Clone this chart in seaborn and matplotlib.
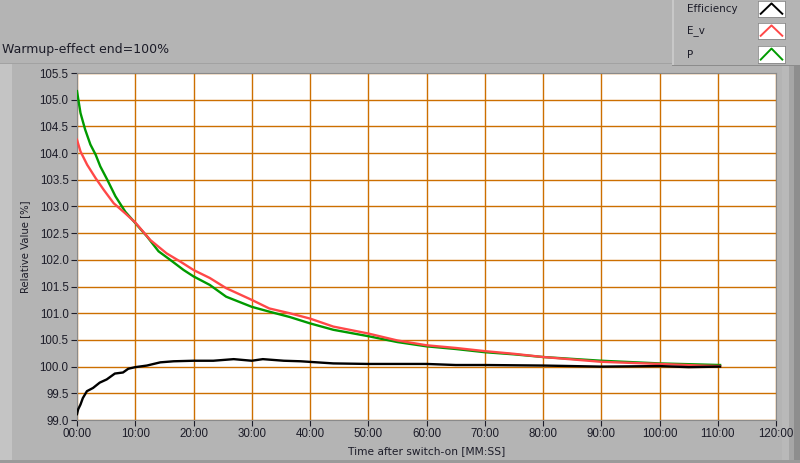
import numpy as np
import pandas as pd
import matplotlib
matplotlib.use('Agg')
import matplotlib.pyplot as plt
import seaborn as sns
from matplotlib.patches import Rectangle

# values (time in minutes, relative value in %)
t_p = [0, 0.6, 1.4, 2.3, 3.2, 4.0, 5.2, 6.6, 8.3, 10, 12, 14, 16, 18.3, 20, 22.8, 25.6,
       30, 33, 36.5, 40, 44, 50, 55, 60, 65, 70, 75, 80, 90, 100, 110.4]
p_val = [105.16, 104.75, 104.44, 104.16, 103.97, 103.75, 103.5, 103.19, 102.9, 102.69,
         102.44, 102.16, 102.0, 101.81, 101.69, 101.53, 101.31, 101.12, 101.03, 100.93,
         100.81, 100.69, 100.57, 100.46, 100.38, 100.33, 100.27, 100.23, 100.18, 100.11,
         100.06, 100.03]

t_ev = [0, 0.6, 1.75, 3.2, 4.6, 6.3, 8.3, 10, 12.6, 15.4, 17.7, 20, 22.8, 25.6, 30, 33,
        36.5, 40, 44, 50, 55, 60, 65, 70, 75, 80, 90, 100, 107, 110.4]
ev_val = [104.25, 104.03, 103.78, 103.53, 103.31, 103.06, 102.87, 102.7, 102.37, 102.12,
          101.97, 101.81, 101.66, 101.47, 101.25, 101.09, 101.0, 100.9, 100.75, 100.62,
          100.49, 100.4, 100.35, 100.29, 100.24, 100.18, 100.09, 100.05, 100.02, 100.01]

t_eff = [0, 0.2, 0.6, 1.0, 1.7, 2.75, 3.9, 5.1, 6.5, 7.9, 8.8, 10, 12, 14.3, 16.6, 20,
         23.4, 26.9, 30, 31.9, 35.5, 38.4, 44, 50, 55, 60, 65, 70, 80, 90, 100, 105, 110.4]
eff_val = [99.11, 99.2, 99.29, 99.41, 99.54, 99.6, 99.7, 99.76, 99.87, 99.89, 99.96, 99.99,
           100.02, 100.08, 100.1, 100.11, 100.11, 100.14, 100.11, 100.14, 100.11, 100.1,
           100.06, 100.05, 100.05, 100.05, 100.03, 100.03, 100.02, 100.0, 100.01, 99.99, 100.0]

x_ticks = list(range(0, 121, 10))
x_labels = ['%02d:00' % m for m in x_ticks]
y_ticks = [99.0 + 0.5 * i for i in range(14)]

bg = '#b4b4b4'
grid_col = '#cc6f00'
txt_col = '#1c1c28'
font = 'DejaVu Sans'
tick_font = 'Liberation Sans'

fig = plt.figure(figsize=(8, 4.63), dpi=100, facecolor=bg)
W, H = 800, 463


def rect(x0, y0, x1, y1, col):
    # pixel box (top-left origin) -> figure patch
    fig.patches.append(Rectangle((x0 / W, 1 - y1 / H), (x1 - x0) / W, (y1 - y0) / H,
                                 transform=fig.transFigure, facecolor=col,
                                 edgecolor='none', zorder=-5))


# panel bevels
rect(0, 64, 12, 463, '#c4c4c4')
rect(0, 63, 672, 64, '#a2a2a2')
rect(782, 66, 789, 463, '#b9b9b9')
rect(789, 66, 794, 463, '#a6a6a6')
rect(794, 66, 800, 463, '#8e8e8e')
rect(0, 460, 800, 463, '#9a9a9a')

ax = fig.add_axes([77 / W, (H - 420) / H, (776 - 77) / W, (420 - 73) / H])
ax.set_facecolor('white')

sns.lineplot(x=t_p, y=p_val, ax=ax, color='#009a00', lw=1.7, zorder=3)
sns.lineplot(x=t_ev, y=ev_val, ax=ax, color='#ff4848', lw=1.7, zorder=4)
sns.lineplot(x=t_eff, y=eff_val, ax=ax, color='black', lw=1.7, zorder=5)

ax.set_xlim(0, 120)
ax.set_ylim(99.0, 105.5)
ax.set_xticks(x_ticks)
ax.set_xticklabels(x_labels)
ax.set_yticks(y_ticks)
ax.set_yticklabels(['%.1f' % v for v in y_ticks])
ax.grid(True, color=grid_col, lw=1.0)
ax.set_axisbelow(True)
ax.tick_params(axis='both', labelsize=8.3, colors=txt_col, length=4, width=0.8, pad=2)
for s in ax.spines.values():
    s.set_color('#8a8a8a')
    s.set_linewidth(0.8)
for lbl in ax.get_xticklabels() + ax.get_yticklabels():
    lbl.set_family(tick_font)

ax.set_xlabel('Time after switch-on [MM:SS]', fontsize=7.7, family=font, color=txt_col)
ax.set_ylabel('Relative Value [%]', fontsize=7.3, family=font, color=txt_col)
ax.xaxis.set_label_coords(0.5, -0.075)
ax.yaxis.set_label_coords(-0.067, 0.5)

fig.text(2 / W, 1 - 50 / H, 'Warmup-effect end=100%', fontsize=9, family=font,
         color=txt_col, va='center', ha='left')

# legend panel
rect(672, 0, 674, 66, '#c8c8c8')
rect(672, 65, 800, 66, '#8c8c8c')
leg_names = ['Efficiency', 'E_v', 'P']
leg_colors = ['black', '#ff4848', '#009a00']
leg_boxes = [(1, 17), (23, 39), (46, 63)]
for name, col, (y0, y1) in zip(leg_names, leg_colors, leg_boxes):
    yc = (y0 + y1) / 2
    fig.text(687 / W, 1 - yc / H, name, fontsize=7.5, family=font, color=txt_col,
             va='center', ha='left')
    lax = fig.add_axes([758 / W, 1 - y1 / H, 27 / W, (y1 - y0) / H])
    lax.set_facecolor('white')
    lax.plot([0.1, 0.5, 0.9], [0.2, 0.85, 0.2], color=col, lw=1.4)
    lax.set_xlim(0, 1)
    lax.set_ylim(0, 1)
    lax.set_xticks([])
    lax.set_yticks([])
    for s in lax.spines.values():
        s.set_color('#8a8a8a')
        s.set_linewidth(0.6)

fig.savefig('out.png', dpi=100, facecolor=bg)
